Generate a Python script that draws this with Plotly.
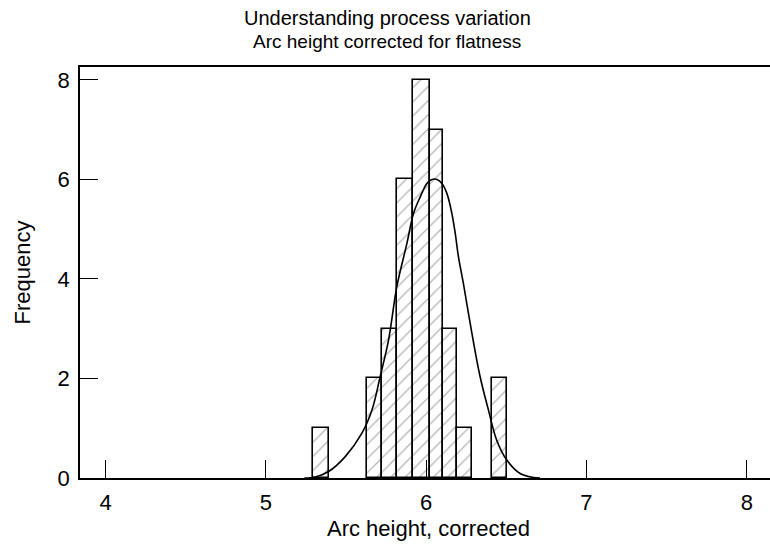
import plotly.graph_objects as go

# Histogram bins (left/right edges) and counts
bin_left = [5.294, 5.630, 5.724, 5.820, 5.918, 6.021, 6.106, 6.195, 6.410]
bin_right = [5.391, 5.724, 5.820, 5.918, 6.021, 6.106, 6.195, 6.287, 6.503]
counts = [1, 2, 3, 6, 8, 7, 3, 1, 2]

# Fitted curve, points
curve_x = [5.24, 5.308, 5.391, 5.495, 5.599, 5.662, 5.713, 5.765, 5.817, 5.880,
           5.921, 5.963, 6.004, 6.036, 6.067, 6.098, 6.129, 6.160, 6.181, 6.201,
           6.232, 6.285, 6.336, 6.388, 6.440, 6.503, 6.586, 6.669, 6.71]
curve_y = [0.0, 0.02, 0.13, 0.43, 0.90, 1.37, 2.04, 2.77, 3.85, 4.72,
           5.32, 5.65, 5.92, 6.00, 6.00, 5.92, 5.72, 5.32, 4.92, 4.45,
           3.91, 2.91, 2.04, 1.37, 0.76, 0.36, 0.09, 0.01, 0.0]

x_ticks = [4, 5, 6, 7, 8]
y_ticks = [0, 2, 4, 6, 8]

title_lines = ["Understanding process variation", "Arc height corrected for flatness"]
x_title = "Arc height, corrected"
y_title = "Frequency"

centers = [(a + b) / 2 for a, b in zip(bin_left, bin_right)]
widths = [b - a for a, b in zip(bin_left, bin_right)]

font_family = "Liberation Sans, Arial, sans-serif"

W, H = 770, 544
ML, MR, MT, MB = 80, 0, 67, 66
PW, PH = W - ML - MR, H - MT - MB


def px_to_paper_x(px):
    return (px - ML) / PW


def px_to_paper_y(py):
    return (H - MB - py) / PH


fig = go.Figure()
fig.add_trace(go.Bar(
    x=centers, y=counts, width=widths,
    marker=dict(
        color="white",
        line=dict(color="black", width=1.6),
        pattern=dict(shape="/", fgcolor="#666666", bgcolor="white",
                     size=10, solidity=0.12),
    ),
    showlegend=False,
))
fig.add_trace(go.Scatter(
    x=curve_x, y=curve_y, mode="lines",
    line=dict(color="black", width=1.6, shape="spline"),
    showlegend=False,
))

annotations = [
    dict(text=title_lines[0], xref="paper", yref="paper",
         x=px_to_paper_x(387), y=px_to_paper_y(18), xanchor="center", yanchor="middle",
         showarrow=False, font=dict(size=20)),
    dict(text=title_lines[1], xref="paper", yref="paper",
         x=px_to_paper_x(387), y=px_to_paper_y(42), xanchor="center", yanchor="middle",
         showarrow=False, font=dict(size=19)),
    dict(text=x_title, xref="paper", yref="paper",
         x=px_to_paper_x(428), y=px_to_paper_y(528), xanchor="center", yanchor="middle",
         showarrow=False, font=dict(size=22)),
    dict(text=y_title, xref="paper", yref="paper", textangle=-90,
         x=px_to_paper_x(22), y=0.5, xanchor="center", yanchor="middle",
         showarrow=False, font=dict(size=22)),
]

fig.update_layout(
    width=W, height=H,
    margin=dict(l=ML, r=MR, t=MT, b=MB, autoexpand=False),
    paper_bgcolor="white", plot_bgcolor="white",
    font=dict(family=font_family, size=22, color="black"),
    bargap=0,
    annotations=annotations,
)
fig.update_xaxes(
    range=[3.84, 8.145], tickvals=x_ticks, ticktext=[str(v) for v in x_ticks],
    ticks="inside", ticklen=18, tickwidth=1.3, tickcolor="black",
    showline=True, linecolor="black", linewidth=2, mirror=True,
    showgrid=False, zeroline=False, automargin=False,
    ticklabelstandoff=4,
    tickfont=dict(size=22),
)
fig.update_yaxes(
    range=[0, 8.26], tickvals=y_ticks, ticktext=[str(v) for v in y_ticks],
    ticks="inside", ticklen=18, tickwidth=1.3, tickcolor="black",
    showline=True, linecolor="black", linewidth=1.6, mirror=False,
    showgrid=False, zeroline=False, automargin=False,
    ticklabelstandoff=4,
    tickfont=dict(size=22),
)

fig.write_html(
    "out.html",
    config={"displayModeBar": False},
    post_script="document.body.style.margin='0px';document.body.style.padding='0px';",
)
